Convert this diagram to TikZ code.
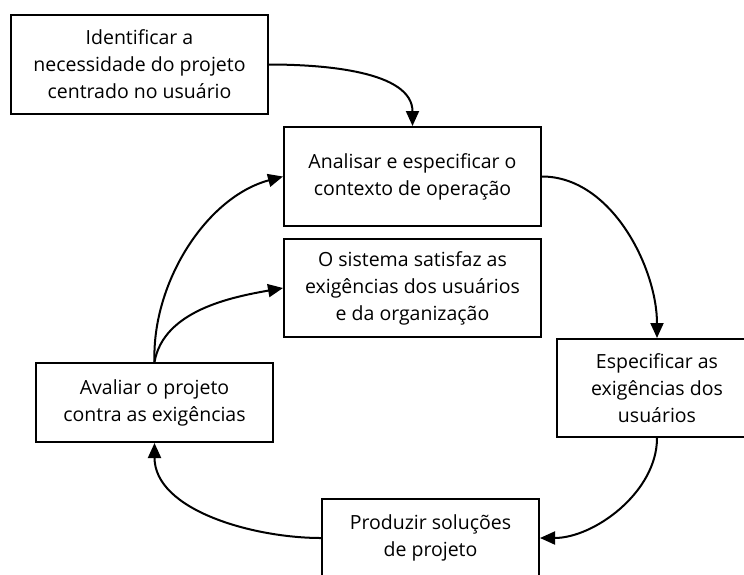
\documentclass[tikz,border=0pt]{standalone}
\usepackage{fontspec}
\setmainfont{Open Sans}
\usetikzlibrary{arrows.meta}
\begin{document}
\begin{tikzpicture}[x=1pt,y=1pt,
  box/.style={draw, line width=2pt, align=center, inner sep=0pt,
    font=\fontsize{19.5}{27}\selectfont},
  conn/.style={line width=2pt, -{Triangle[length=15pt,width=13pt]}}]
\useasboundingbox (0,0) rectangle (744,-574);
\clip (0,0) rectangle (744,-574);
\node[box, minimum width=257, minimum height=99] (b1) at (139.5,-64.5)
  {Identificar a\\necessidade do projeto\\centrado no usuário};
\node[box, minimum width=257, minimum height=99] (b2) at (412.5,-176.5)
  {Analisar e especificar o\\contexto de operação};
\node[box, minimum width=257, minimum height=98] (b3) at (412.5,-288)
  {O sistema satisfaz as\\exigências dos usuários\\e da organização};
\node[box, minimum width=237, minimum height=79] (b4) at (154.5,-402.5)
  {Avaliar o projeto\\contra as exigências};
\node[box, minimum width=200, minimum height=98] (b5) at (657,-388)
  {Especificar as\\exigências dos\\usuários};
\node[box, minimum width=217, minimum height=78] (b6) at (430.5,-538)
  {Produzir soluções\\de projeto};
\draw[conn] (b1.east) to[out=0, in=90, looseness=0.9] (b2.north);
\draw[conn] (b2.east) to[out=0, in=90, looseness=0.9] (b5.north);
\draw[conn] (b5.south) to[out=-90, in=0, looseness=0.9] (b6.east);
\draw[conn] (b6.west) to[out=180, in=-90, looseness=0.9] (b4.south);
\draw[conn] (b4.north) to[out=92, in=195, looseness=0.9] (b2.west);
\draw[conn] (b4.north) to[out=80, in=190, looseness=0.9] (b3.west);
\end{tikzpicture}
\end{document}
